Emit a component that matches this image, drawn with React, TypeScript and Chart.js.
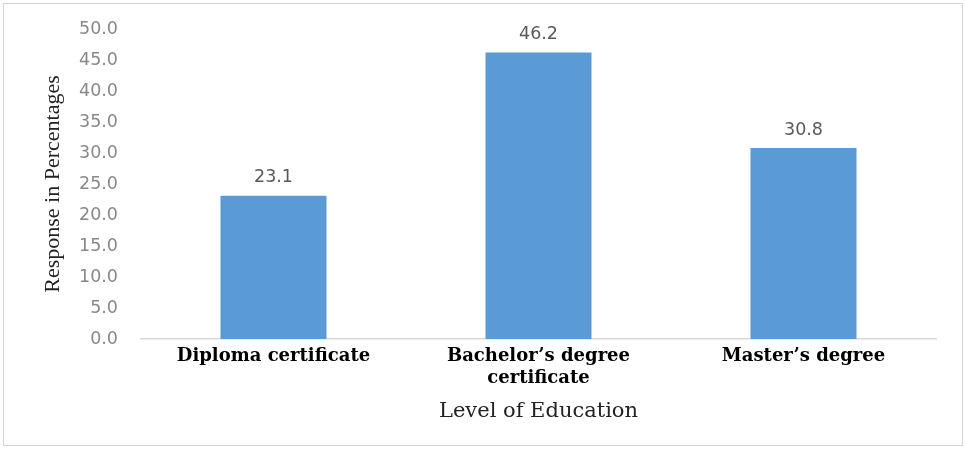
import React, { useEffect, useRef } from "react";
import { Chart, registerables } from "chart.js";

Chart.register(...registerables);

const categories: (string | string[])[] = [
  "Diploma certificate",
  ["Bachelor\u2019s degree", "certificate"],
  "Master\u2019s degree",
];
const responses: number[] = [23.1, 46.2, 30.8];
const yMin = 0;
const yMax = 50;
const yStep = 5;
const yTitle = "Response in Percentages";
const xTitle = "Level of Education";

const valueLabels = {
  id: "valueLabels",
  afterDatasetsDraw(chart: any) {
    const ctx = chart.ctx;
    const meta = chart.getDatasetMeta(0);
    ctx.save();
    ctx.font = "17.5px 'DejaVu Sans'";
    ctx.fillStyle = "#595959";
    ctx.textAlign = "center";
    ctx.textBaseline = "middle";
    meta.data.forEach((bar: any, i: number) => {
      const v = chart.data.datasets[0].data[i] as number;
      ctx.fillText(v.toFixed(1), bar.x, bar.y - 18);
    });
    ctx.restore();
  },
};

export default function App() {
  const ref = useRef<HTMLCanvasElement>(null);
  useEffect(() => {
    if (!ref.current) return;
    const chart = new Chart(ref.current, {
      type: "bar",
      data: {
        labels: categories,
        datasets: [
          {
            data: responses,
            backgroundColor: "#5b9bd5",
            barPercentage: 0.4,
            categoryPercentage: 1,
          },
        ],
      },
      options: {
        animation: false,
        responsive: false,
        maintainAspectRatio: false,
        layout: { padding: { top: 29, right: 30, left: 0, bottom: 0 } },
        plugins: { legend: { display: false }, tooltip: { enabled: false } },
        scales: {
          x: {
            grid: { display: false, drawTicks: false },
            border: { display: true, color: "#d9d9d9", width: 1.5 },
            ticks: {
              color: "#000",
              padding: 7,
              maxRotation: 0,
              font: { family: "'DejaVu Serif'", size: 18, weight: "bold", lineHeight: 1.2 },
            },
            title: {
              display: true,
              text: xTitle,
              color: "#222",
              font: { family: "'DejaVu Serif'", size: 21 },
              padding: { top: 0, bottom: 25 },
            },
            afterFit(scale: any) {
              scale.height = 110;
              scale.paddingLeft = 0;
              scale.paddingRight = 0;
            },
          },
          y: {
            min: yMin,
            max: yMax,
            grid: { display: false, drawTicks: false },
            border: { display: false },
            ticks: {
              stepSize: yStep,
              color: "#888888",
              padding: 23,
              font: { family: "'DejaVu Sans'", size: 17.5 },
              callback: (v: any) => Number(v).toFixed(1),
            },
            title: {
              display: true,
              text: yTitle,
              color: "#222",
              font: { family: "'Liberation Serif'", size: 22 },
              padding: { top: 40, bottom: 0 },
            },
            afterFit(scale: any) {
              scale.width = 141;
              scale.paddingTop = 0;
              scale.paddingBottom = 0;
            },
          },
        },
      },
      plugins: [valueLabels],
    });
    return () => chart.destroy();
  }, []);
  return (
    <div style={{ position: "relative", width: 966, height: 449, background: "#fff" }}>
      <style>{"body{margin:0}"}</style>
      <div
        style={{
          position: "absolute",
          left: 3,
          top: 3,
          width: 958,
          height: 441,
          border: "1.5px solid #d4d4d4",
          pointerEvents: "none",
        }}
      />
      <canvas ref={ref} width={966} height={449} style={{ display: "block" }} />
    </div>
  );
}
